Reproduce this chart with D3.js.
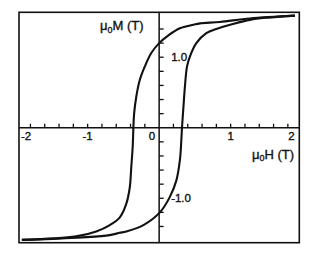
<!DOCTYPE html>
<html>
<head>
<meta charset="utf-8">
<script src="https://cdn.jsdelivr.net/npm/d3@7"></script>
<style>
  body { margin: 0; background: #fff; }
  text { font-family: "Liberation Sans", Arial, sans-serif; fill: #111; stroke: #111; stroke-width: 0.35; }
</style>
</head>
<body>
<script>
const width = 314;
const height = 255;

// descending branch (coming down from +H saturation), [H, M]
const upperBranch = [
  [1.90, 1.59], [1.27, 1.55], [0.85, 1.50], [0.57, 1.48], [0.48, 1.46],
  [0.29, 1.41], [0.13, 1.31], [0.00, 1.20], [-0.11, 1.06], [-0.20, 0.87],
  [-0.27, 0.68], [-0.32, 0.44], [-0.35, 0.20], [-0.36, 0.01], [-0.37, -0.27],
  [-0.39, -0.56], [-0.41, -0.84], [-0.46, -1.08], [-0.55, -1.27], [-0.69, -1.38],
  [-0.88, -1.47], [-1.16, -1.54], [-1.92, -1.59]
];

// ascending branch (going up from -H saturation)
const lowerBranch = [
  [-1.92, -1.59], [-0.74, -1.53], [-0.55, -1.49], [-0.46, -1.47], [-0.22, -1.38],
  [0.01, -1.20], [0.15, -0.98], [0.24, -0.75], [0.29, -0.46], [0.31, -0.18],
  [0.32, 0.01], [0.34, 0.30], [0.36, 0.58], [0.39, 0.87], [0.43, 1.01],
  [0.52, 1.20], [0.66, 1.34], [0.80, 1.40], [1.03, 1.47], [1.27, 1.53],
  [1.50, 1.56], [1.90, 1.59]
];

const xTicks = d3.range(-9, 10).filter(d => d !== 0).map(d => d * 0.2);
const yTicks = d3.range(-7, 8).filter(d => d !== 0).map(d => d * 0.2);
const xTickLabels = [
  { v: -1.86, t: "-2" }, { v: -1, t: "-1" }, { v: -0.1, t: "0" },
  { v: 1, t: "1" }, { v: 1.85, t: "2" }
];
const yTickLabels = [
  { v: 1.0, t: "1.0" }, { v: -1.0, t: "-1.0" }
];

const x = d3.scaleLinear().domain([-1.96, 1.96]).range([19, 299.3]);
const y = d3.scaleLinear().domain([-1.63, 1.637]).range([242.7, 12.3]);

const svg = d3.select("body").append("svg")
  .attr("width", width)
  .attr("height", height);

// frame
svg.append("rect")
  .attr("x", x(-1.96)).attr("y", y(1.637))
  .attr("width", x(1.96) - x(-1.96))
  .attr("height", y(-1.63) - y(1.637))
  .attr("fill", "none").attr("stroke", "#111").attr("stroke-width", 1.6);

// axes through origin
svg.append("line")
  .attr("x1", x(-1.96)).attr("x2", x(1.96))
  .attr("y1", y(0)).attr("y2", y(0))
  .attr("stroke", "#111").attr("stroke-width", 1.5);
svg.append("line")
  .attr("x1", x(0)).attr("x2", x(0))
  .attr("y1", y(1.637)).attr("y2", y(-1.63))
  .attr("stroke", "#111").attr("stroke-width", 1.5);

svg.selectAll(".xt").data(xTicks).enter().append("line")
  .attr("x1", d => x(d)).attr("x2", d => x(d))
  .attr("y1", y(0)).attr("y2", y(0) - 4)
  .attr("stroke", "#111").attr("stroke-width", 1.3);

svg.selectAll(".yt").data(yTicks).enter().append("line")
  .attr("x1", x(0)).attr("x2", x(0) + 4.5)
  .attr("y1", d => y(d)).attr("y2", d => y(d))
  .attr("stroke", "#111").attr("stroke-width", 1.3);

svg.selectAll(".xl").data(xTickLabels).enter().append("text")
  .attr("x", d => x(d.v)).attr("y", y(0) + 12.5)
  .attr("text-anchor", "middle")
  .attr("font-size", 11.5)
  .text(d => d.t);

svg.selectAll(".yl").data(yTickLabels).enter().append("text")
  .attr("x", x(0) + 12).attr("y", d => y(d.v) + 4)
  .attr("font-size", 11.5)
  .text(d => d.t);

// axis titles
function title(tx, ty, letter) {
  const t = svg.append("text").attr("x", tx).attr("y", ty).attr("font-size", 13);
  t.append("tspan").text("\u03bc");
  t.append("tspan").attr("font-size", 9).attr("dy", 2.5).text("0");
  t.append("tspan").attr("dy", -2.5).text(letter + " (T)");
}
title(100, 30, "M");
title(252, 158.5, "H");

const line = d3.line()
  .x(d => x(d[0]))
  .y(d => y(d[1]))
  .curve(d3.curveCatmullRom.alpha(0.5));

[upperBranch, lowerBranch].forEach(b => {
  svg.append("path")
    .attr("d", line(b))
    .attr("fill", "none")
    .attr("stroke", "#111")
    .attr("stroke-width", 2.1);
});
</script>
</body>
</html>
